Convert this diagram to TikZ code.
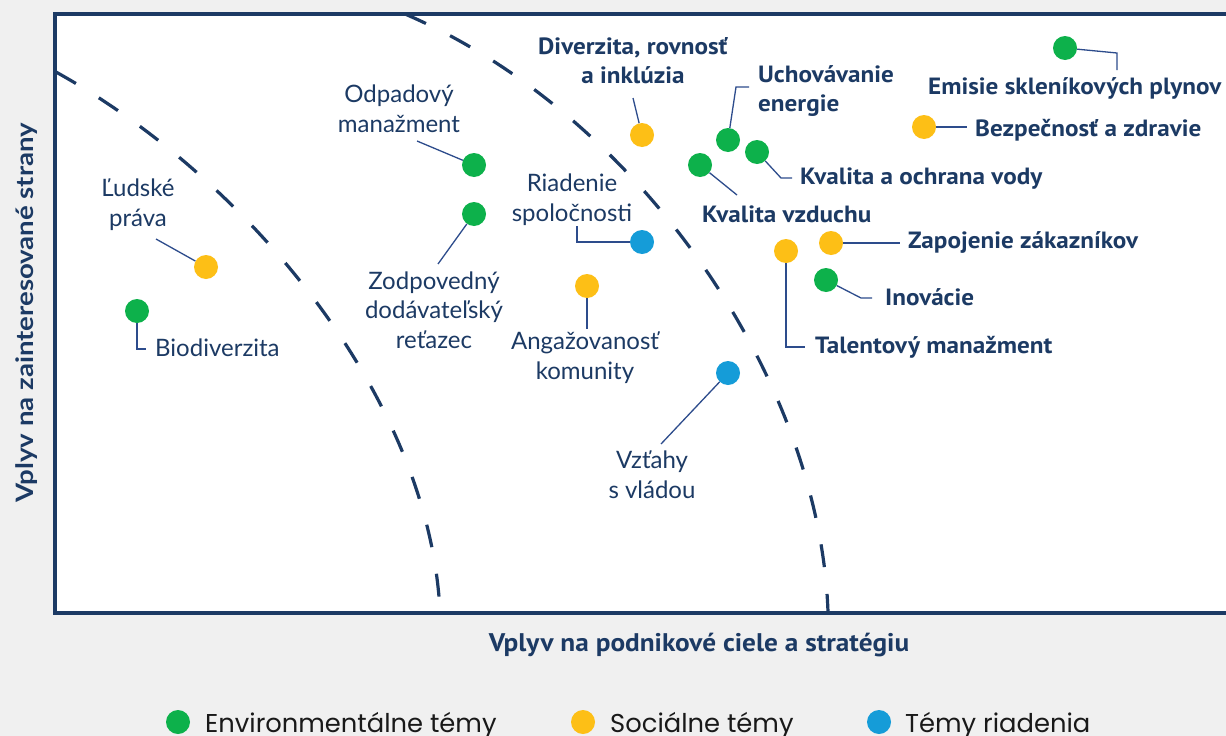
\documentclass[tikz,border=0pt]{standalone}
\usepackage{fontspec}
\setmainfont{Lato}
\newfontfamily\keyfont{PT Sans}[FakeStretch=1.07]
\newfontfamily\yfont{Lato}[FakeStretch=1.15]
\newfontfamily\legfont{Poppins}
\definecolor{navy}{HTML}{1C3A64}
\definecolor{leadblue}{HTML}{2D4C8C}
\definecolor{bggrey}{HTML}{F0F0F0}
\definecolor{envgreen}{HTML}{0DB14B}
\definecolor{socyellow}{HTML}{FDBF16}
\definecolor{govblue}{HTML}{159CD8}
\begin{document}
\begin{tikzpicture}[x=1pt,y=-1pt]
% canvas
\useasboundingbox (0,0) rectangle (1226,736);
\fill[bggrey] (0,0) rectangle (1226,736);
\fill[white] (55,14) rectangle (1232,613);

% definitions
\tikzstyle{frame} = [draw=navy, line width=3.3pt]
\tikzstyle{zone} = [draw=navy, line width=3.2pt, dash pattern=on 23pt off 27pt]
\tikzstyle{dot} = [circle, minimum size=24pt, inner sep=0pt]
\tikzstyle{env} = [dot, fill=envgreen]
\tikzstyle{soc} = [dot, fill=socyellow]
\tikzstyle{gov} = [dot, fill=govblue]
\tikzstyle{plain} = [inner sep=0pt, text=navy, align=center, font=\fontsize{24}{29.5}\selectfont]
\tikzstyle{key} = [inner sep=0pt, text=navy, align=left, font=\keyfont\bfseries\fontsize{23.5}{29}\selectfont]
\tikzstyle{lead} = [draw=leadblue, line width=1.3pt]
\tikzstyle{legtext} = [inner sep=0pt, anchor=base west, text=black!90, font=\legfont\fontsize{25.8}{30}\selectfont]

% axes
\draw[frame] (1232,14) -- (55,14) -- (55,613) -- (1232,613);
\node (xlab) [key, anchor=base, font=\keyfont\bfseries\fontsize{25.5}{30}\selectfont] at (699,651) {Vplyv na podnikové ciele a stratégiu};
\node (ylab) [key, anchor=base, rotate=90, font=\yfont\bfseries\fontsize{24}{28}\selectfont] at (33,313) {Vplyv na zainteresované strany};

% zone borders
\draw[zone] (56,72) .. controls (250,180) and (430,400) .. (440,612);
\draw[zone] (405,14) .. controls (640,115) and (820,380) .. (828,612);

% topics
\node (dHum) [soc] at (206,267) {};
\node (dBio) [env] at (137,311) {};
\node (dOdp) [env] at (474,165) {};
\node (dZod) [env] at (474,214) {};
\node (dDiv) [soc] at (642,135) {};
\node (dUch) [env] at (728,140) {};
\node (dVod) [env] at (757,152) {};
\node (dVzd) [env] at (700,165) {};
\node (dRia) [gov] at (642,242) {};
\node (dAng) [soc] at (587,286) {};
\node (dTal) [soc] at (786,251) {};
\node (dZap) [soc] at (831,243) {};
\node (dIno) [env] at (826,280) {};
\node (dVzt) [gov] at (728,373) {};
\node (dEmi) [env] at (1065,48) {};
\node (dBez) [soc] at (924,127) {};

% labels
\node (tHum) [plain, anchor=base] at (138,226) {Ľudské\\práva};
\node (tBio) [plain, anchor=base west] at (155,356) {Biodiverzita};
\node (tOdp) [plain, anchor=base] at (399,132) {Odpadový\\manažment};
\node (tZod) [plain, anchor=base] at (434,348) {Zodpovedný\\dodávateľský\\reťazec};
\node (tRia) [plain, anchor=base] at (572,221) {Riadenie\\spoločnosti};
\node (tAng) [plain, anchor=base] at (585,379) {Angažovanosť\\komunity};
\node (tVzt) [plain, anchor=base] at (652,498) {Vzťahy\\s vládou};
\node (tDiv) [key, align=center, anchor=base] at (633,83) {Diverzita, rovnosť\\a inklúzia};
\node (tUch) [key, anchor=base west] at (758,111) {Uchovávanie\\energie};
\node (tVod) [key, anchor=base west] at (800,184) {Kvalita a ochrana vody};
\node (tVzd) [key, anchor=base west] at (702,222) {Kvalita vzduchu};
\node (tZap) [key, anchor=base west] at (908,248) {Zapojenie zákazníkov};
\node (tIno) [key, anchor=base west] at (885,305) {Inovácie};
\node (tTal) [key, anchor=base west] at (815,353) {Talentový manažment};
\node (tEmi) [key, anchor=base west] at (928,94) {Emisie skleníkových plynov};
\node (tBez) [key, anchor=base west] at (975,136) {Bezpečnosť a zdravie};

% leader ends
\coordinate (cHum) at (156,239);
\coordinate (cBio) at (146,349);
\coordinate (cOdp) at (417,141);
\coordinate (cZod) at (438,264);
\coordinate (cDiv) at (633,98);
\coordinate (kUch) at (736,87);
\coordinate (cUch) at (749,87);
\coordinate (kVod) at (781,178);
\coordinate (cVod) at (792,178);
\coordinate (cVzd) at (737,195);
\coordinate (cRia) at (577,226);
\coordinate (cAng) at (587,329);
\coordinate (cTal) at (805,347);
\coordinate (cZap) at (900,243);
\coordinate (kIno) at (861,298);
\coordinate (cIno) at (872,298);
\coordinate (cVzt) at (661,444);
\coordinate (kEmi) at (1117,53);
\coordinate (cEmi) at (1117,70);
\coordinate (cBez) at (967,127);

\draw [lead] (dHum) -- (cHum);
\draw [lead] (dBio) |- (cBio);
\draw [lead] (dOdp) -- (cOdp);
\draw [lead] (dZod) -- (cZod);
\draw [lead] (dDiv) -- (cDiv);
\draw [lead] (dUch) -- (kUch) -- (cUch);
\draw [lead] (dVod) -- (kVod) -- (cVod);
\draw [lead] (dVzd) -- (cVzd);
\draw [lead] (dRia) -| (cRia);
\draw [lead] (dAng) -- (cAng);
\draw [lead] (dTal) |- (cTal);
\draw [lead] (dZap) -- (cZap);
\draw [lead] (dIno) -- (kIno) -- (cIno);
\draw [lead] (dVzt) -- (cVzt);
\draw [lead] (dEmi) -- (kEmi) -- (cEmi);
\draw [lead] (dBez) -- (cBez);

% legend
\node (kEnv) [env] at (178,722) {};
\node (kSoc) [soc] at (583,722) {};
\node (kGov) [gov] at (879,722) {};
\node (lEnv) [legtext] at (205,732) {Environmentálne témy};
\node (lSoc) [legtext] at (610,732) {Sociálne témy};
\node (lGov) [legtext] at (905,732) {Témy riadenia};

\end{tikzpicture}
\end{document}
